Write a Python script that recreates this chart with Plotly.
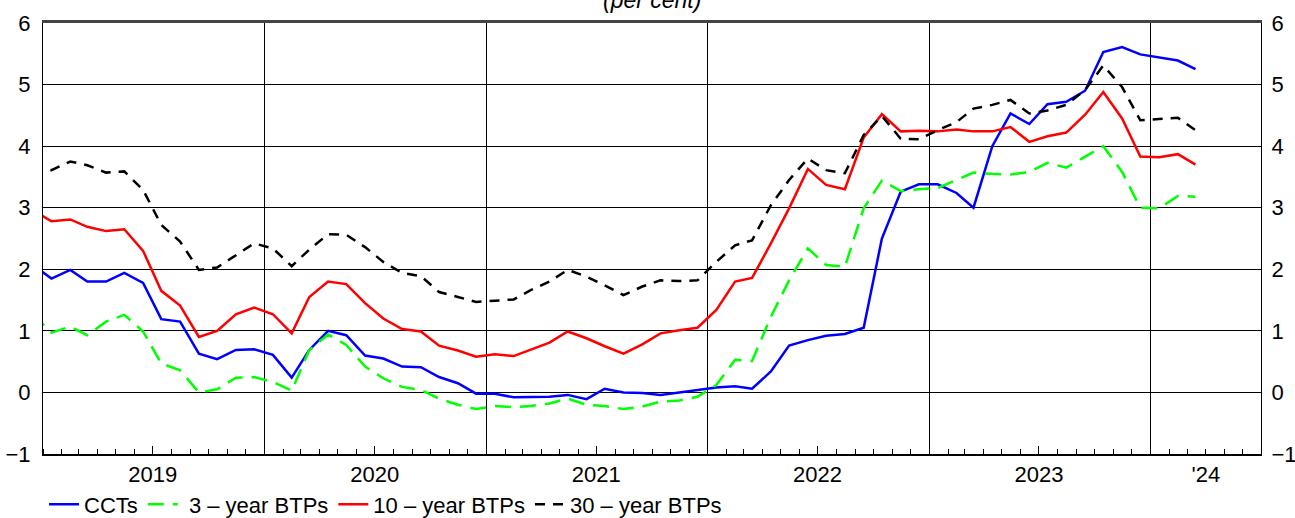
import pandas as pd
import plotly.graph_objects as go

# Monthly observations (plotted mid-month), Dec 2018 - Mar 2024
months = (pd.date_range("2018-12-01", "2024-03-01", freq="MS") + pd.Timedelta(days=14)).strftime("%Y-%m-%d").tolist()

cct = [2.07,
       1.85, 1.99, 1.80, 1.80, 1.94, 1.78, 1.19, 1.15, 0.63, 0.54, 0.69, 0.70,
       0.61, 0.24, 0.69, 1.00, 0.93, 0.60, 0.55, 0.42, 0.41, 0.25, 0.15, -0.02,
       -0.02, -0.08, -0.08, -0.07, -0.04, -0.11, 0.06, 0.00, -0.01, -0.04, 0.00, 0.04,
       0.08, 0.10, 0.06, 0.34, 0.76, 0.85, 0.92, 0.95, 1.05, 2.50, 3.26, 3.38,
       3.38, 3.24, 3.00, 4.00, 4.53, 4.36, 4.68, 4.72, 4.90, 5.53, 5.61, 5.49,
       5.44, 5.39, 5.25]

btp3 = [1.27,
        0.97, 1.07, 0.93, 1.15, 1.26, 0.99, 0.47, 0.36, 0.00, 0.05, 0.24, 0.25,
        0.17, 0.03, 0.69, 0.94, 0.77, 0.42, 0.23, 0.09, 0.04, -0.10, -0.20, -0.27,
        -0.22, -0.24, -0.22, -0.18, -0.10, -0.20, -0.22, -0.27, -0.23, -0.15, -0.13, -0.07,
        0.12, 0.53, 0.51, 1.23, 1.82, 2.34, 2.07, 2.04, 2.99, 3.44, 3.27, 3.30,
        3.32, 3.45, 3.57, 3.55, 3.54, 3.58, 3.73, 3.65, 3.83, 4.00, 3.58, 3.00,
        2.99, 3.19, 3.18]

btp10 = [2.96,
         2.78, 2.81, 2.69, 2.62, 2.65, 2.30, 1.65, 1.41, 0.90, 1.00, 1.27, 1.38,
         1.27, 0.96, 1.55, 1.80, 1.76, 1.45, 1.20, 1.03, 0.99, 0.76, 0.68, 0.58,
         0.62, 0.59, 0.70, 0.81, 0.99, 0.88, 0.75, 0.63, 0.78, 0.96, 1.01, 1.05,
         1.34, 1.80, 1.86, 2.42, 2.99, 3.63, 3.37, 3.30, 4.14, 4.52, 4.24, 4.25,
         4.24, 4.27, 4.24, 4.24, 4.31, 4.07, 4.16, 4.22, 4.51, 4.88, 4.45, 3.83,
         3.82, 3.87, 3.70]

btp30 = [3.67,
         3.61, 3.75, 3.69, 3.57, 3.59, 3.29, 2.72, 2.45, 1.99, 2.03, 2.23, 2.42,
         2.34, 2.05, 2.32, 2.57, 2.56, 2.36, 2.12, 1.94, 1.89, 1.63, 1.55, 1.47,
         1.49, 1.51, 1.66, 1.80, 1.99, 1.88, 1.74, 1.58, 1.72, 1.82, 1.81, 1.82,
         2.12, 2.39, 2.47, 3.04, 3.45, 3.80, 3.61, 3.56, 4.18, 4.49, 4.12, 4.11,
         4.26, 4.39, 4.61, 4.67, 4.75, 4.53, 4.58, 4.67, 4.91, 5.31, 4.96, 4.42,
         4.44, 4.46, 4.26]

year_labels = ["2019", "2020", "2021", "2022", "2023", "'24"]
year_label_dates = ["2019-07-01", "2020-07-01", "2021-07-01", "2022-07-01", "2023-07-01", "2024-04-01"]
long_tick_dates = ["2019-07-01", "2020-07-01", "2021-07-01", "2022-07-01", "2023-07-01"]
year_bounds = ["2020-01-01", "2021-01-01", "2022-01-01", "2023-01-01", "2024-01-01"]
y_ticks = [-1, 0, 1, 2, 3, 4, 5, 6]

FONT = "Liberation Sans, Arial, sans-serif"
FS = 22

fig = go.Figure()
fig.add_trace(go.Scatter(x=months, y=cct, name="CCTs", mode="lines",
                         line=dict(color="#0000FF", width=2.5)))
fig.add_trace(go.Scatter(x=months, y=btp3, name=" 3 – year BTPs", mode="lines",
                         line=dict(color="#00FF00", width=2.5, dash="16px,9px")))
fig.add_trace(go.Scatter(x=months, y=btp10, name="10 – year BTPs", mode="lines",
                         line=dict(color="#FF0000", width=2.5)))
fig.add_trace(go.Scatter(x=months, y=btp30, name="30 – year BTPs", mode="lines",
                         line=dict(color="#000000", width=2.5, dash="10px,8px")))

xrange_ = ["2019-01-01", "2024-07-01"]

fig.update_layout(
    width=1295, height=518,
    margin=dict(l=43, r=34, t=23, b=64, autoexpand=False),
    paper_bgcolor="white", plot_bgcolor="white",
    font=dict(family=FONT, size=FS, color="black"),
    showlegend=True,
    legend=dict(orientation="h", xref="container", yref="paper",
                x=0.034, y=-0.117, xanchor="left", yanchor="middle",
                font=dict(family=FONT, size=FS, color="black"),
                bgcolor="rgba(0,0,0,0)", itemwidth=30, tracegroupgap=0),
    xaxis=dict(
        type="date", range=xrange_, automargin=False,
        tickmode="array", tickvals=year_label_dates,
        ticktext=year_labels,
        ticks="", showgrid=False, zeroline=False,
        showline=True, linecolor="black", linewidth=1.5,
        minor=dict(tickmode="linear", tick0="2019-01-01", dtick="M1",
                   ticks="inside", ticklen=5, tickcolor="black", tickwidth=1,
                   showgrid=False),
        tickfont=dict(size=FS),
    ),
    xaxis2=dict(
        type="date", range=xrange_, overlaying="x", side="top", automargin=False,
        tickmode="array", tickvals=year_bounds,
        showticklabels=False, ticks="",
        showgrid=True, gridcolor="black", gridwidth=1,
        showline=True, linecolor="#444444", linewidth=3,
        zeroline=False,
    ),
    xaxis3=dict(
        type="date", range=xrange_, overlaying="x", side="bottom", automargin=False,
        tickmode="array", tickvals=long_tick_dates,
        showticklabels=False, ticks="inside", ticklen=8, tickcolor="black", tickwidth=1,
        showgrid=False, showline=False, zeroline=False,
    ),
    yaxis=dict(
        range=[-1, 6], tickmode="array", tickvals=y_ticks, automargin=False,
        showgrid=True, gridcolor="black", gridwidth=1,
        zeroline=False, ticks="", ticklabelstandoff=7,
        showline=True, linecolor="black", linewidth=1,
        tickfont=dict(size=FS),
    ),
    yaxis2=dict(
        range=[-1, 6], tickmode="array", tickvals=y_ticks, automargin=False,
        overlaying="y", side="right", showgrid=False,
        zeroline=False, ticks="", ticklabelstandoff=5,
        showline=True, linecolor="black", linewidth=1,
        tickfont=dict(size=FS),
    ),
)

# hidden helper traces to activate the secondary axes
fig.add_trace(go.Scatter(x=[months[1]], y=[None], xaxis="x2", yaxis="y2",
                         showlegend=False, hoverinfo="skip"))
fig.add_trace(go.Scatter(x=[months[1]], y=[None], xaxis="x3", yaxis="y",
                         showlegend=False, hoverinfo="skip"))

fig.add_annotation(x=0.5, y=1.0, xref="paper", yref="paper", yanchor="bottom",
                   text="<i>(per cent)</i>", showarrow=False, yshift=8,
                   font=dict(family=FONT, size=23, color="black"))

fig.write_html("out.html", config={"displayModeBar": False},
               post_script="document.body.style.margin='0px';document.body.style.overflow='hidden';")
